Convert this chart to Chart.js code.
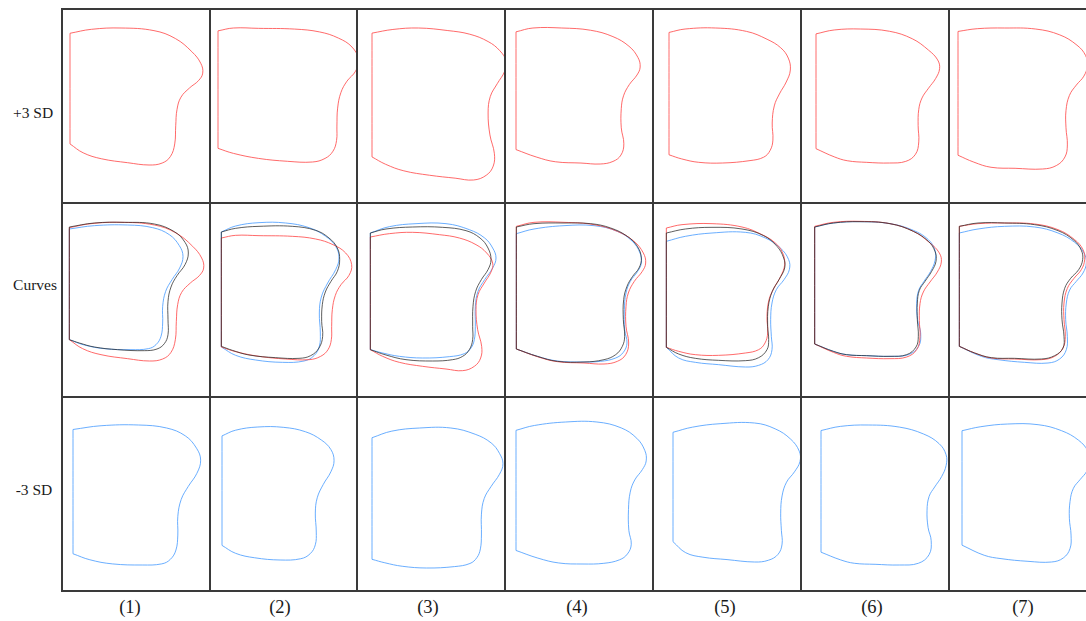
<!DOCTYPE html>
<html>
<head>
<meta charset="utf-8">
<script src="https://cdn.jsdelivr.net/npm/chart.js@4.4.1/dist/chart.umd.min.js"></script>
<style>
  html, body { margin: 0; padding: 0; background: #fff; }
  body { width: 1086px; height: 621px; position: relative; overflow: hidden;
         font-family: "Liberation Serif", "DejaVu Serif", serif; color: #1a1a1a; }
  .cell { position: absolute; }
  .cell canvas { display: block; }
  .hl, .vl { position: absolute; background: #3a3a3a; }
  .lbl { position: absolute; white-space: nowrap; transform: translate(-50%, -50%); }
  .row-lbl { font-size: 15.5px; }
  .col-lbl { font-size: 18.5px; }
</style>
</head>
<body>
<script>
// Outline contours (x to the right, y downward), listed from the top-left corner
// clockwise round to the bottom-left corner; the straight left edge closes them.

// (1)
const red1   = [[25,84],[90,72],[180,68],[280,76],[345,100],[395,140],[422,175],[428,205],[415,228],[388,250],[362,278],[350,315],[346,365],[343,420],[330,458],[305,478],[265,484],[200,477],[120,465],[65,447],[25,420]];
const mean1  = [[25,82],[100,70],[190,68],[280,73],[340,96],[372,128],[382,160],[372,195],[348,228],[330,262],[321,305],[321,360],[321,405],[310,432],[288,448],[250,453],[170,450],[100,442],[55,430],[25,420]];
const blue1  = [[25,88],[100,78],[200,76],[275,84],[325,105],[355,138],[366,170],[356,205],[333,240],[314,275],[305,320],[305,370],[300,410],[285,435],[262,447],[210,450],[130,447],[70,436],[25,420]];
// (2)
const red2   = [[37,115],[80,107],[150,108],[250,110],[320,118],[372,135],[410,160],[428,195],[420,227],[396,255],[379,287],[370,330],[368,380],[367,420],[357,450],[335,470],[300,480],[230,478],[150,470],[80,456],[37,442]];
const mean2  = [[37,97],[80,86],[150,80],[250,80],[320,92],[360,115],[385,145],[392,180],[385,215],[366,245],[349,277],[340,315],[338,365],[341,410],[330,445],[305,468],[270,476],[200,474],[120,466],[70,452],[37,440]];
const blue2  = [[37,97],[80,79],[150,69],[230,70],[300,84],[350,110],[380,140],[390,175],[380,210],[356,250],[337,292],[331,340],[334,400],[331,440],[315,468],[285,484],[220,488],[140,481],[80,467],[37,442]];
// (3)
const red3   = [[43,112],[100,102],[170,98],[250,105],[310,115],[360,135],[392,160],[410,190],[405,217],[385,250],[366,285],[360,330],[365,390],[377,440],[374,475],[355,500],[320,513],[270,508],[200,500],[130,488],[80,470],[43,450]];
const mean3  = [[43,100],[90,88],[170,82],[260,83],[330,93],[372,115],[396,145],[405,180],[396,210],[376,240],[359,275],[351,320],[350,380],[350,420],[340,450],[320,470],[290,480],[230,484],[150,480],[90,466],[43,450]];
const blue3  = [[43,100],[100,81],[180,72],[270,72],[340,90],[386,115],[410,145],[420,175],[410,205],[386,240],[366,275],[358,320],[358,380],[355,420],[345,445],[325,462],[280,471],[200,475],[130,470],[80,460],[43,450]];
// (4)
const red4   = [[37,80],[90,68],[180,68],[270,75],[340,95],[390,125],[418,160],[425,190],[415,215],[391,245],[373,280],[366,320],[366,380],[374,430],[365,465],[340,485],[300,493],[240,490],[160,486],[100,471],[37,448]];
const mean4  = [[37,82],[90,72],[180,70],[260,72],[320,85],[370,110],[400,140],[412,175],[405,205],[386,230],[369,260],[359,300],[358,360],[362,410],[355,440],[335,465],[300,480],[240,487],[160,485],[100,470],[37,448]];
const blue4  = [[37,102],[90,88],[180,78],[270,78],[340,95],[385,125],[408,160],[412,190],[401,215],[379,245],[366,280],[361,330],[362,390],[369,430],[358,458],[335,475],[290,485],[230,487],[160,484],[100,470],[37,448]];
// (5)
const red5   = [[43,85],[90,75],[180,72],[270,82],[330,105],[370,130],[392,160],[398,195],[386,230],[366,265],[351,300],[345,350],[347,400],[339,430],[320,450],[280,460],[200,467],[130,465],[80,455],[43,443]];
const mean5  = [[43,100],[100,88],[180,83],[270,88],[335,108],[375,140],[395,175],[398,205],[381,240],[361,275],[349,320],[347,380],[350,420],[345,450],[320,474],[280,483],[200,482],[130,476],[80,463],[43,443]];
const blue5  = [[43,125],[100,110],[180,100],[280,98],[340,115],[385,145],[410,180],[412,210],[396,240],[373,270],[360,310],[356,360],[358,410],[360,450],[348,480],[320,497],[280,502],[200,495],[130,488],[80,475],[43,443]];
// (6)
const red6   = [[44,80],[100,68],[180,65],[270,72],[340,95],[390,130],[418,160],[424,187],[412,217],[390,247],[370,277],[360,312],[358,362],[360,412],[350,450],[320,472],[270,477],[200,475],[140,470],[100,458],[44,433]];
const mean6  = [[44,82],[100,70],[180,66],[270,72],[340,95],[385,125],[405,155],[408,185],[395,215],[375,245],[358,272],[352,310],[352,360],[355,410],[348,442],[320,465],[270,470],[200,468],[140,465],[100,455],[44,433]];
const blue6  = [[44,82],[100,70],[180,66],[270,72],[340,92],[385,120],[405,152],[405,183],[392,215],[372,245],[356,272],[350,312],[353,362],[362,400],[356,440],[325,465],[270,470],[200,468],[140,465],[100,455],[44,433]];
// (7)
const red7   = [[34,80],[90,72],[170,70],[260,73],[330,90],[380,120],[405,150],[410,180],[400,210],[378,236],[358,266],[348,310],[348,360],[352,410],[345,445],[320,470],[280,480],[200,478],[130,475],[80,460],[34,440]];
const mean7  = [[34,80],[90,70],[170,70],[260,75],[330,93],[378,122],[400,152],[404,180],[392,210],[368,236],[350,266],[342,310],[342,360],[348,410],[345,445],[320,468],[280,478],[200,476],[130,474],[80,460],[34,440]];
const blue7  = [[34,100],[90,88],[170,80],[260,82],[330,100],[380,128],[408,160],[415,190],[405,220],[385,245],[365,271],[355,310],[353,360],[358,410],[355,450],[335,478],[300,490],[230,488],[150,480],[100,470],[34,440]];

const columnLabels = ['(1)', '(2)', '(3)', '(4)', '(5)', '(6)', '(7)'];
const rowLabels = ['+3 SD', 'Curves', '-3 SD'];

const redSets  = [red1, red2, red3, red4, red5, red6, red7];
const meanSets = [mean1, mean2, mean3, mean4, mean5, mean6, mean7];
const blueSets = [blue1, blue2, blue3, blue4, blue5, blue6, blue7];

// ---- layout ----
const COL_LEFT = [62, 210, 357, 505, 653, 801, 949, 1097];
const ROW_TOP = [9, 203, 397, 591];
const UNIT = 3;                     // contour units per screen pixel in the "Curves" row
const CURVES_ORIGIN = [3, 10];      // contour coordinate at a cell's top-left corner
// where single outlines sit in their own panels: [left, top, bottom] inside the cell
const FRAME_PLUS  = [[8,19,156],[8,19,153],[15,19,171],[11,19,155],[16,19,154],[15,20,154],[9,19,160]];
const FRAME_MINUS = [[11,28,168],[12,30,163],[15,31,171],[11,25,167],[20,26,165],[20,28,168],[13,27,165]];
const ROW_LABEL_POS = [[33,113],[35,285],[34,490]];
const COL_LABEL_X = [130, 280, 428, 577, 725, 872, 1023];
const COL_LABEL_Y = 607;

const COLORS = { red: 'rgba(255,80,80,0.85)', mean: 'rgba(40,40,40,0.75)', blue: 'rgba(80,160,255,0.85)' };

// closes the outline down the straight left side (repeated corners keep them sharp)
function outline(pts) {
  const first = pts[0], last = pts[pts.length - 1];
  return pts.concat([last, first]).map(([x, y]) => ({ x, y }));
}

function fitRanges(pts, frame, w, h) {
  const xs = pts.map(p => p[0]), ys = pts.map(p => p[1]);
  const x0 = Math.min(...xs), y0 = Math.min(...ys), y1 = Math.max(...ys);
  const s = (frame[2] - frame[1]) / (y1 - y0);
  const xmin = x0 - frame[0] / s, ymin = y0 - frame[1] / s;
  return { x: [xmin, xmin + w / s], y: [ymin, ymin + h / s] };
}

function makeCell(ci, ri, sets, ranges) {
  const w = COL_LEFT[ci + 1] - COL_LEFT[ci];
  const h = ROW_TOP[ri + 1] - ROW_TOP[ri];
  const div = document.createElement('div');
  div.className = 'cell';
  div.style.left = COL_LEFT[ci] + 'px';
  div.style.top = ROW_TOP[ri] + 'px';
  div.style.width = w + 'px';
  div.style.height = h + 'px';
  const cv = document.createElement('canvas');
  cv.width = w; cv.height = h;
  cv.style.width = w + 'px'; cv.style.height = h + 'px';
  div.appendChild(cv);
  document.body.appendChild(div);
  new Chart(cv, {
    type: 'scatter',
    data: {
      datasets: sets.map(s => ({
        data: outline(s.pts),
        showLine: true,
        borderColor: s.color,
        borderWidth: 1,
        pointRadius: 0,
        tension: 0.4,
        fill: false
      }))
    },
    options: {
      responsive: false,
      animation: false,
      events: [],
      layout: { padding: 0 },
      plugins: { legend: { display: false }, tooltip: { enabled: false } },
      scales: {
        x: { type: 'linear', display: false, min: ranges.x[0], max: ranges.x[1] },
        y: { type: 'linear', display: false, reverse: true, min: ranges.y[0], max: ranges.y[1] }
      }
    }
  });
}

for (let c = 0; c < 7; c++) {
  const w = COL_LEFT[c + 1] - COL_LEFT[c];
  // +3 SD
  makeCell(c, 0, [{ pts: redSets[c], color: COLORS.red }],
           fitRanges(redSets[c], FRAME_PLUS[c], w, ROW_TOP[1] - ROW_TOP[0]));
  // overlaid curves
  const h2 = ROW_TOP[2] - ROW_TOP[1];
  makeCell(c, 1, [
      { pts: meanSets[c], color: COLORS.mean },
      { pts: redSets[c], color: COLORS.red },
      { pts: blueSets[c], color: COLORS.blue }
    ], {
      x: [CURVES_ORIGIN[0], CURVES_ORIGIN[0] + w * UNIT],
      y: [CURVES_ORIGIN[1], CURVES_ORIGIN[1] + h2 * UNIT]
    });
  // -3 SD
  makeCell(c, 2, [{ pts: blueSets[c], color: COLORS.blue }],
           fitRanges(blueSets[c], FRAME_MINUS[c], w, ROW_TOP[3] - ROW_TOP[2]));
}

// panel frame lines
function line(cls, x, y, w, h) {
  const d = document.createElement('div');
  d.className = cls;
  d.style.left = x + 'px'; d.style.top = y + 'px';
  d.style.width = w + 'px'; d.style.height = h + 'px';
  document.body.appendChild(d);
}
ROW_TOP.forEach(y => line('hl', COL_LEFT[0] - 1, y - 1, 1100 - COL_LEFT[0], 2));
COL_LEFT.forEach(x => line('vl', x - 1, ROW_TOP[0] - 1, 2, ROW_TOP[3] - ROW_TOP[0] + 2));

// row and column captions
function label(cls, text, x, y) {
  const d = document.createElement('div');
  d.className = 'lbl ' + cls;
  d.textContent = text;
  d.style.left = x + 'px'; d.style.top = y + 'px';
  document.body.appendChild(d);
}
rowLabels.forEach((t, i) => label('row-lbl', t, ROW_LABEL_POS[i][0], ROW_LABEL_POS[i][1]));
columnLabels.forEach((t, i) => label('col-lbl', t, COL_LABEL_X[i], COL_LABEL_Y));
</script>
</body>
</html>
